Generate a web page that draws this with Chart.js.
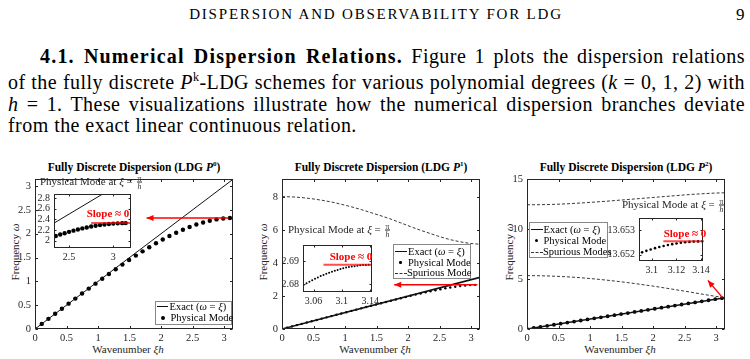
<!DOCTYPE html>
<html lang="en">
<head>
<meta charset="UTF-8">
<title>Fully Discrete Dispersion (LDG)</title>
<script src="https://cdn.jsdelivr.net/npm/chart.js@4.4.1/dist/chart.umd.min.js"></script>
<style>
  body { margin:0; width:750px; height:359px; overflow:hidden; background:#fff; position:relative; font-family:'Liberation Serif','Times New Roman',serif; color:#000; }
  canvas { position:absolute; }
  .t { position:absolute; white-space:nowrap; transform:translate(-50%,-50%); line-height:1; }
  .tl { position:absolute; white-space:nowrap; transform:translateY(-50%); line-height:1; }
  .yl { position:absolute; white-space:nowrap; transform:translate(-50%,-50%) rotate(-90deg); line-height:1; font-size:11px; color:#262626; }
  .ttl { font-weight:bold; font-size:11.5px; }
  .xl { font-size:11px; color:#262626; }
  .it { font-size:11px; color:#262626; }
  .slope { color:#f00; font-weight:bold; font-size:11px; }
  .fr { display:inline-block; vertical-align:-0.5em; text-align:center; font-size:7.5px; line-height:7px; margin-left:1px; }
  .fr span { display:block; }
  .fr span:first-child { border-bottom:0.8px solid #262626; padding:0 1px; }
  .leg { position:absolute; border:1px solid #888; background:#fff; box-sizing:border-box; }
  .lt { position:absolute; white-space:nowrap; transform:translateY(-50%); font-size:10.5px; line-height:1; }
  .para { position:absolute; left:8px; top:46px; width:737px; font-size:20px; letter-spacing:0.45px; line-height:21.5px; }
  .para div { white-space:nowrap; }
  .para b { letter-spacing:1.2px; }
  .hdr { font-size:15px; letter-spacing:1.8px; }
</style>
</head>
<body>
<div class="t hdr" style="left:376px;top:14px">DISPERSION AND OBSERVABILITY FOR LDG</div>
<div class="tl" style="left:736px;top:14px;font-size:17px">9</div>

<div class="para">
  <div class="jl" style="padding-left:32px"><span><b>4.1. Numerical Dispersion Relations.</b> Figure 1 plots the dispersion relations</span></div>
  <div class="jl"><span>of the fully discrete <i>P</i><sup style="font-size:12px">k</sup>-LDG schemes for various polynomial degrees (<i>k</i> = 0, 1, 2) with</span></div>
  <div class="jl"><span><i>h</i> = 1. These visualizations illustrate how the numerical dispersion branches deviate</span></div>
  <div><span>from the exact linear continuous relation.</span></div>
</div>

<div class="t ttl" style="left:134px;top:167px">Fully Discrete Dispersion (LDG <i>P</i><sup style="font-size:7px">0</sup>)</div>
<div class="t ttl" style="left:381px;top:167px">Fully Discrete Dispersion (LDG <i>P</i><sup style="font-size:7px">1</sup>)</div>
<div class="t ttl" style="left:626px;top:167px">Fully Discrete Dispersion (LDG <i>P</i><sup style="font-size:7px">2</sup>)</div>

<div class="t xl" style="left:128px;top:349px">Wavenumber <i>ξh</i></div>
<div class="t xl" style="left:375px;top:349px">Wavenumber <i>ξh</i></div>
<div class="t xl" style="left:620px;top:349px">Wavenumber <i>ξh</i></div>
<div class="yl" style="left:15px;top:252px">Frequency <i>ω</i></div>
<div class="yl" style="left:263px;top:252px">Frequency <i>ω</i></div>
<div class="yl" style="left:509px;top:252px">Frequency <i>ω</i></div>

<script>
// ---------- data ----------
const exactXi = [0, 3.1416];
const exactOmega = [0, 3.1416];

// coarse wavenumber grid (P0 and P2 physical modes)
const xiCoarse = [0, 0.107, 0.213, 0.32, 0.427, 0.533, 0.64, 0.747, 0.853, 0.96, 1.067, 1.173, 1.28, 1.387, 1.493,
  1.6, 1.707, 1.813, 1.92, 2.027, 2.133, 2.24, 2.347, 2.453, 2.56, 2.667, 2.773, 2.88, 2.987, 3.093];
const p0Omega = [0, 0.107, 0.213, 0.32, 0.426, 0.532, 0.638, 0.744, 0.848, 0.952, 1.054, 1.155, 1.255, 1.352, 1.448,
  1.54, 1.63, 1.717, 1.799, 1.878, 1.952, 2.021, 2.084, 2.142, 2.193, 2.236, 2.272, 2.3, 2.319, 2.329];
const p2Omega = [0, 0.107, 0.213, 0.32, 0.427, 0.533, 0.64, 0.747, 0.853, 0.96, 1.067, 1.173, 1.28, 1.387, 1.493,
  1.6, 1.707, 1.813, 1.92, 2.027, 2.133, 2.24, 2.347, 2.453, 2.56, 2.667, 2.773, 2.88, 2.987, 3.093];

// fine grid (P1 physical mode)
const xiFine = [0, 0.079, 0.157, 0.236, 0.314, 0.393, 0.471, 0.55, 0.628, 0.707, 0.785, 0.864, 0.942, 1.021, 1.1,
  1.178, 1.257, 1.335, 1.414, 1.492, 1.571, 1.649, 1.728, 1.806, 1.885, 1.963, 2.042, 2.12, 2.199, 2.278, 2.356,
  2.435, 2.513, 2.592, 2.67, 2.749, 2.827, 2.906, 2.985, 3.063, 3.142];
const p1Omega = [0, 0.079, 0.157, 0.236, 0.314, 0.393, 0.471, 0.55, 0.628, 0.707, 0.785, 0.864, 0.942, 1.021, 1.099,
  1.177, 1.256, 1.334, 1.412, 1.489, 1.567, 1.644, 1.721, 1.796, 1.872, 1.946, 2.019, 2.091, 2.161, 2.23, 2.295,
  2.358, 2.417, 2.473, 2.524, 2.57, 2.61, 2.643, 2.668, 2.684, 2.689];

// spurious branches
const xiSpur = [0, 0.157, 0.314, 0.471, 0.628, 0.785, 0.942, 1.1, 1.257, 1.414, 1.571, 1.728, 1.885, 2.042, 2.199,
  2.356, 2.513, 2.67, 2.827, 2.985, 3.142];
const p1Spurious = [8.05, 8.03, 7.99, 7.92, 7.83, 7.72, 7.58, 7.43, 7.26, 7.07, 6.88, 6.68, 6.45, 6.22, 6.0,
  5.8, 5.6, 5.43, 5.3, 5.2, 5.15];
const p2SpurHigh = [12.45, 12.45, 12.47, 12.5, 12.54, 12.6, 12.66, 12.73, 12.8, 12.88, 12.96, 13.04, 13.12, 13.2, 13.28,
  13.36, 13.44, 13.51, 13.57, 13.62, 13.65];
const p2SpurLow = [5.35, 5.34, 5.32, 5.28, 5.23, 5.17, 5.09, 5.0, 4.9, 4.79, 4.67, 4.54, 4.4, 4.26, 4.1,
  3.94, 3.78, 3.61, 3.44, 3.28, 3.15];

// insets: zoom near xi = pi
const in0Xi = [2.35, 2.4, 2.45, 2.5, 2.55, 2.6, 2.65, 2.7, 2.75, 2.8, 2.85, 2.9, 2.95, 3.0, 3.05, 3.1, 3.14];
const in0Omega = [2.086, 2.114, 2.14, 2.165, 2.188, 2.21, 2.23, 2.248, 2.265, 2.28, 2.293, 2.304, 2.314, 2.321, 2.326, 2.329, 2.33];
const in1Xi = [3.046, 3.05, 3.054, 3.058, 3.062, 3.066, 3.07, 3.074, 3.078, 3.082, 3.086, 3.09, 3.094, 3.098,
  3.102, 3.106, 3.11, 3.114, 3.118, 3.122, 3.126, 3.13, 3.134, 3.138, 3.142];
const in1Omega = [2.6798, 2.6805, 2.6812, 2.6818, 2.6824, 2.683, 2.6836, 2.6841, 2.6846, 2.6851, 2.6855, 2.6859,
  2.6863, 2.6867, 2.687, 2.6873, 2.6875, 2.6878, 2.6879, 2.6881, 2.6883, 2.6884, 2.6884, 2.6885, 2.6885];
const in2Xi = [3.0921, 3.0956, 3.0991, 3.1026, 3.1061, 3.1096, 3.1131, 3.1166, 3.1201, 3.1236, 3.1271, 3.1306, 3.1341, 3.1376, 3.1411];
const in2Omega = [13.652102, 13.652163, 13.652219, 13.652272, 13.652319, 13.652363, 13.652401, 13.652436,
  13.652465, 13.652491, 13.652512, 13.652528, 13.65254, 13.652547, 13.65255];

// tick labels
const mainXTicks = [0, 0.5, 1, 1.5, 2, 2.5, 3];
const p0YTicks = [0, 0.5, 1, 1.5, 2, 2.5, 3];
const p1YTicks = [0, 2, 4, 6, 8];
const p2YTicks = [0, 5, 10, 15];
const in0XTicks = [2.5, 3];
const in0YTicks = [2, 2.2, 2.4, 2.6, 2.8];
const in1XTicks = [3.06, 3.1, 3.14];
const in1YTicks = [2.68, 2.69];
const in2XTicks = [3.1, 3.12, 3.14];
const in2YTicks = [13.652, 13.653];

const pts = (xs, ys) => xs.map((x, i) => ({x: x, y: ys[i]}));

// stretch paragraph lines to the full measure (LaTeX-like justification)
document.querySelectorAll('.para .jl').forEach(el => {
  const span = el.firstElementChild;
  const avail = el.clientWidth - parseFloat(getComputedStyle(el).paddingLeft);
  const gaps = (span.textContent.match(/ /g) || []).length;
  el.style.wordSpacing = ((avail - span.getBoundingClientRect().width) / gaps) + 'px';
});

// matlab-ish box with inward ticks
const mbox = {
  id: 'mbox',
  beforeDraw(chart, a, o) {
    if (!o.fill) return;
    const c = chart.ctx, r = chart.chartArea;
    c.save(); c.fillStyle = '#fff'; c.fillRect(r.left, r.top, r.right - r.left, r.bottom - r.top); c.restore();
  },
  afterDraw(chart, a, o) {
    const c = chart.ctx, r = chart.chartArea, tl = o.tick || 2.5;
    const L = Math.round(r.left) + 0.5, R = Math.round(r.right) - 0.5, T = Math.round(r.top) + 0.5, B = Math.round(r.bottom) - 0.5;
    const sx = chart.scales.x, sy = chart.scales.y;
    c.save(); c.strokeStyle = '#262626'; c.lineWidth = 1;
    c.beginPath();
    sx.ticks.forEach(t => { const p = Math.round(sx.getPixelForValue(t.value)) + 0.5; c.moveTo(p, B); c.lineTo(p, B - tl); c.moveTo(p, T); c.lineTo(p, T + tl); });
    sy.ticks.forEach(t => { const p = Math.round(sy.getPixelForValue(t.value)) + 0.5; c.moveTo(L, p); c.lineTo(L + tl, p); c.moveTo(R, p); c.lineTo(R - tl, p); });
    c.stroke();
    c.strokeRect(L, T, R - L, B - T);
    c.restore();
  }
};

// red arrows / markers in data coordinates
const marks = {
  id: 'marks',
  afterDatasetsDraw(chart, a, o) {
    const c = chart.ctx, sx = chart.scales.x, sy = chart.scales.y;
    (o.items || []).forEach(m => {
      const x0 = sx.getPixelForValue(m.x0), y0 = sy.getPixelForValue(m.y0);
      const x1 = sx.getPixelForValue(m.x1), y1 = sy.getPixelForValue(m.y1);
      c.save(); c.strokeStyle = m.color; c.fillStyle = m.color; c.lineWidth = m.width;
      c.beginPath(); c.moveTo(x0, y0); c.lineTo(x1, y1); c.stroke();
      if (m.head) {
        const ang = Math.atan2(y1 - y0, x1 - x0), hl = 7, hw = 3;
        c.beginPath(); c.moveTo(x1, y1);
        c.lineTo(x1 - hl * Math.cos(ang) + hw * Math.sin(ang), y1 - hl * Math.sin(ang) - hw * Math.cos(ang));
        c.lineTo(x1 - hl * Math.cos(ang) - hw * Math.sin(ang), y1 - hl * Math.sin(ang) + hw * Math.cos(ang));
        c.closePath(); c.fill();
      }
      c.restore();
    });
  }
};

function axes(box, xr, yr, xt, yt, sets, o) {
  const padL = o.padL, padB = o.padB, pt = o.pt, pr = o.pr;
  const cv = document.createElement('canvas');
  cv.width = box[2] + padL + pr; cv.height = box[3] + pt + padB;
  cv.style.left = (box[0] - padL) + 'px'; cv.style.top = (box[1] - pt) + 'px';
  document.body.appendChild(cv);
  const fnt = {family: "'Liberation Serif', serif", size: o.fs};
  const fmt = v => String(Number(v.toFixed(4)));
  return new Chart(cv, {
    type: 'scatter',
    data: {datasets: sets},
    options: {
      responsive: false, animation: false, devicePixelRatio: 1,
      layout: {padding: {left: 0, top: pt, right: pr, bottom: 0}},
      plugins: {legend: {display: false}, tooltip: {enabled: false}, mbox: {fill: !!o.fill, tick: o.tick}, marks: {items: o.marks || []}},
      scales: {
        x: {type: 'linear', min: xr[0], max: xr[1], grid: {display: false, drawTicks: false}, border: {display: false},
          afterFit: s => { s.height = padB; },
          afterBuildTicks: s => { s.ticks = xt.map(v => ({value: v})); },
          ticks: {color: '#262626', font: fnt, padding: 3, maxRotation: 0, autoSkip: false, callback: fmt}},
        y: {type: 'linear', min: yr[0], max: yr[1], grid: {display: false, drawTicks: false}, border: {display: false},
          afterFit: s => { s.width = padL; },
          afterBuildTicks: s => { s.ticks = yt.map(v => ({value: v})); },
          ticks: {color: '#262626', font: fnt, padding: 4, autoSkip: false, callback: fmt}}
      }
    },
    plugins: [mbox, marks]
  });
}

const mainOpt = m => ({padL: 30, padB: 16, pt: 8, pr: 8, fs: 10.5, tick: 2.5, marks: m});
const red = '#f00', redSoft = 'rgba(255,0,0,0.7)';
const exactSet = w => ({data: pts(exactXi, exactOmega), showLine: true, borderColor: '#111', borderWidth: w, pointRadius: 0});
const dotSet = (xs, ys, r) => ({data: pts(xs, ys), pointRadius: r, pointBackgroundColor: '#000', pointBorderWidth: 0, showLine: false});
const dashSet = (xs, ys) => ({data: pts(xs, ys), showLine: true, borderColor: '#222', borderWidth: 0.9, borderDash: [3, 2], pointRadius: 0});

// P0
axes([35, 177, 198, 152], [0, 3.1416], [0, 3.1416], mainXTicks, p0YTicks,
  [exactSet(1), dotSet(xiCoarse, p0Omega, 2.2)],
  mainOpt([{x0: 3.07, y0: 2.33, x1: 1.77, y1: 2.33, color: red, width: 1.5, head: true}]));
// P1
axes([282, 177, 198, 152], [0, 3.1416], [0, 9.1], mainXTicks, p1YTicks,
  [exactSet(1.6), dotSet(xiFine, p1Omega, 1.2), dashSet(xiSpur, p1Spurious)],
  mainOpt([{x0: 3.1, y0: 2.69, x1: 1.78, y1: 2.69, color: red, width: 1.5, head: true}]));
// P2
axes([527, 177, 198, 152], [0, 3.1416], [0, 15], mainXTicks, p2YTicks,
  [exactSet(1.5), dotSet(xiCoarse, p2Omega, 1.9), dashSet(xiSpur, p2SpurHigh), dashSet(xiSpur, p2SpurLow)],
  mainOpt([{x0: 3.1, y0: 3.16, x1: 2.87, y1: 4.87, color: red, width: 1.3, head: true}]));

// insets
axes([54, 190, 77, 58], [2.33, 3.2], [1.86, 2.88], in0XTicks, in0YTicks,
  [exactSet(1), dotSet(in0Xi, in0Omega, 2.2)],
  {padL: 22, padB: 14, pt: 6, pr: 4, fs: 10, tick: 2, fill: true,
   marks: [{x0: 2.75, y0: 2.33, x1: 3.19, y1: 2.33, color: redSoft, width: 2}]});
axes([303, 241, 73, 51], [3.045, 3.142], [2.6767, 2.6971], in1XTicks, in1YTicks,
  [dotSet(in1Xi, in1Omega, 1)],
  {padL: 24, padB: 14, pt: 6, pr: 6, fs: 10, tick: 2, fill: true,
   marks: [{x0: 3.074, y0: 2.6885, x1: 3.142, y1: 2.6885, color: redSoft, width: 2}]});
axes([639, 214, 68, 47], [3.0896, 3.142], [13.65175, 13.6535], in2XTicks, in2YTicks,
  [dotSet(in2Xi, in2Omega, 1.3)],
  {padL: 34, padB: 14, pt: 6, pr: 6, fs: 10, tick: 2, fill: true,
   marks: [{x0: 3.1094, y0: 13.65255, x1: 3.142, y1: 13.65255, color: redSoft, width: 2}]});

// text overlays (inset titles, slope notes, legends)
function put(html, cls, x, y) {
  const d = document.createElement('div');
  d.className = cls; d.innerHTML = html;
  d.style.left = x + 'px'; d.style.top = y + 'px';
  document.body.appendChild(d);
}
const insetTitle = 'Physical Mode at <i>ξ</i> = <span class="fr"><span>π</span><span><i>h</i></span></span>';
put(insetTitle, 'tl it', 40, 182);
put(insetTitle, 'tl it', 288, 230);
put(insetTitle, 'tl it', 622, 205);
put('Slope ≈ 0', 't slope', 108, 213);
put('Slope ≈ 0', 't slope', 351, 256);
put('Slope ≈ 0', 't slope', 685, 233);

function legend(b, rows) {
  const box = document.createElement('div');
  box.className = 'leg';
  Object.assign(box.style, {left: b[0] + 'px', top: b[1] + 'px', width: b[2] + 'px', height: b[3] + 'px'});
  document.body.appendChild(box);
  rows.forEach(r => {
    const s = document.createElement('div');
    s.style.position = 'absolute';
    if (r.kind === 'dot') {
      Object.assign(s.style, {left: (r.sx + r.sw / 2 - r.d / 2) + 'px', top: (r.y - r.d / 2) + 'px', width: r.d + 'px', height: r.d + 'px', borderRadius: '50%', background: '#000'});
    } else {
      Object.assign(s.style, {left: r.sx + 'px', top: (r.y - r.w / 2) + 'px', width: r.sw + 'px', height: 0,
        borderTop: r.w + 'px ' + (r.kind === 'dash' ? 'dashed #333' : 'solid #111')});
    }
    document.body.appendChild(s);
    put(r.text, 'lt', r.tx, r.y);
  });
}
const exactTxt = 'Exact (<i>ω</i> = <i>ξ</i>)';
legend([155, 301, 77, 24], [
  {kind: 'line', sx: 157, sw: 11, w: 1, y: 306.7, tx: 169.5, text: exactTxt},
  {kind: 'dot', sx: 157, sw: 11, d: 4, y: 317.7, tx: 170.5, text: 'Physical Mode'}
]);
legend([393, 244, 78, 35], [
  {kind: 'line', sx: 394.5, sw: 12, w: 1.6, y: 251.7, tx: 408, text: exactTxt},
  {kind: 'dot', sx: 394.5, sw: 12, d: 2.4, y: 262.5, tx: 408, text: 'Physical Mode'},
  {kind: 'dash', sx: 394.5, sw: 12, w: 1, y: 273.3, tx: 407, text: 'Spurious Mode'}
]);
legend([529, 222, 79, 36], [
  {kind: 'line', sx: 530.5, sw: 12, w: 1.5, y: 229.7, tx: 543.5, text: exactTxt},
  {kind: 'dot', sx: 530.5, sw: 12, d: 3.6, y: 240.7, tx: 543.5, text: 'Physical Mode'},
  {kind: 'dash', sx: 530.5, sw: 12, w: 1, y: 252, tx: 543, text: 'Spurious Modes'}
]);
</script>
</body>
</html>
